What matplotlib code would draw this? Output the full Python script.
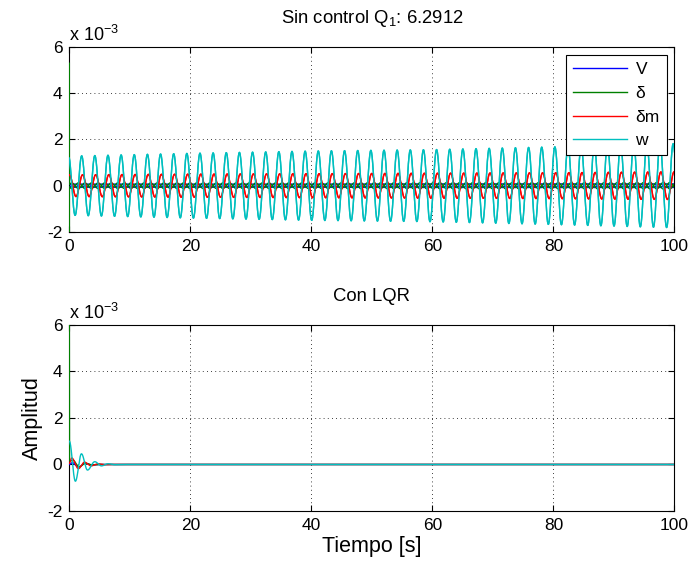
import numpy as np
import matplotlib
matplotlib.use('Agg')
import matplotlib.pyplot as plt
from matplotlib.ticker import FuncFormatter

plt.rcParams['font.family'] = ['Liberation Sans', 'DejaVu Sans']
plt.rcParams['mathtext.fontset'] = 'custom'
plt.rcParams['mathtext.rm'] = 'Liberation Sans'
plt.rcParams['axes.unicode_minus'] = True

# ---- datos (unidades x 1e-3) ----
labels = ['V', 'δ', 'δm', 'w']
colors = ['#0000ff', '#008000', '#ff0000', '#00bfbf']

# sin control: periodo de oscilacion y envolventes
periodo = 2.172
env_t = [0, 20, 40, 60, 80, 100]
env_V = [0.07, 0.07, 0.07, 0.08, 0.08, 0.08]
env_d = [0.12, 0.12, 0.12, 0.13, 0.13, 0.14]
env_dm = [0.47, 0.50, 0.52, 0.54, 0.56, 0.60]
env_w = [1.28, 1.40, 1.50, 1.56, 1.68, 1.82]
fase = [0.38, -1.19, -0.05, 0.38]   # V, delta, delta m, w
d_pico_inicial = 5.3

# con LQR: extremos (tiempo, valor)
lqr_V_t = [0, 0.5, 1.5, 2.6, 3.7, 5.0]
lqr_V = [0.0, 0.08, -0.12, 0.05, -0.02, 0.0]
lqr_d_t = [0, 0.03, 0.6, 1.6, 2.7, 3.8, 5.0]
lqr_d = [6.5, 0.15, 0.18, -0.10, 0.05, -0.02, 0.0]
lqr_dm_t = [0, 0.4, 1.5, 2.5, 3.6, 4.7, 5.8, 7.0]
lqr_dm = [0.05, 0.28, -0.18, 0.10, -0.06, 0.03, -0.01, 0.0]
lqr_w_t = [0, 1.0, 2.0, 3.0, 4.2, 5.3, 6.4, 7.5, 8.6]
lqr_w = [1.0, -0.72, 0.46, -0.24, 0.12, -0.06, 0.03, -0.01, 0.0]

t = np.linspace(0, 100, 10001)
w0 = 2 * np.pi / periodo


def oscila(env, ph):
    return np.interp(t, env_t, env) * np.cos(w0 * t + ph)


def extremos(tt, vv):
    y = np.zeros_like(t)
    for i in range(len(tt) - 1):
        m = (t >= tt[i]) & (t <= tt[i + 1])
        s = (t[m] - tt[i]) / (tt[i + 1] - tt[i])
        y[m] = vv[i] + (vv[i + 1] - vv[i]) * (1 - np.cos(np.pi * s)) / 2
    return y


fig = plt.figure(figsize=(6.94, 5.67), dpi=100)
ax1 = fig.add_axes([0.0999, 0.591, 0.8720, 0.326])
ax2 = fig.add_axes([0.0999, 0.0988, 0.8720, 0.328])

lw = 1.0

# sin control
sc = []
for env, ph in zip([env_V, env_d, env_dm, env_w], fase):
    sc.append(oscila(env, ph))
sc[1][0] = d_pico_inicial
lineas = []
for k in range(4):
    l, = ax1.plot(t, sc[k] * 1e-3, color=colors[k], lw=lw, label=labels[k], zorder=3)
    lineas.append(l)
    if k < 2:
        # segundo estado del mismo tipo (fase opuesta)
        ax1.plot(t, -sc[k] * 1e-3, color=colors[k], lw=lw, zorder=3)
for k in [2, 3]:
    ax1.plot(t, sc[k] * 1e-3, color=colors[k], lw=lw, zorder=3)

# con LQR
lqr = [extremos(lqr_V_t, lqr_V), extremos(lqr_d_t, lqr_d),
       extremos(lqr_dm_t, lqr_dm), extremos(lqr_w_t, lqr_w)]
for k in range(4):
    ax2.plot(t, lqr[k] * 1e-3, color=colors[k], lw=lw, zorder=3)

fmt = FuncFormatter(lambda v, p: '%g' % round(v * 1e3, 6))
for ax, tit in [(ax1, r'Sin control Q$_1$: 6.2912'), (ax2, 'Con LQR')]:
    ax.set_xlim(0, 100)
    ax.set_ylim(-2e-3, 6e-3)
    ax.set_xticks([0, 20, 40, 60, 80, 100])
    ax.set_yticks([-2e-3, 0, 2e-3, 4e-3, 6e-3])
    ax.yaxis.set_major_formatter(fmt)
    ax.grid(True, color='k', linestyle=(0, (1, 4)), linewidth=0.6)
    ax.tick_params(direction='in', top=True, right=True, labelsize=12.5, length=4, pad=5)
    for s in ax.spines.values():
        s.set_linewidth(0.8)
    ax.set_title(tit, fontsize=13.3, pad=17)
    ax.text(0, 1.012, r'x 10$^{-3}$', transform=ax.transAxes, fontsize=13,
            ha='left', va='bottom')

ax2.set_ylabel('Amplitud', fontsize=15.5, labelpad=3)
ax2.set_xlabel('Tiempo [s]', fontsize=15.5, labelpad=2)

leg = ax1.legend(handles=lineas, loc='upper right', fontsize=12.5, handlelength=3.1,
                 handletextpad=0.5, fancybox=False, edgecolor='k', framealpha=1,
                 borderaxespad=0.45, labelspacing=0.5, borderpad=0.4)
leg.get_frame().set_linewidth(0.8)

fig.savefig('out.png', dpi=100)
